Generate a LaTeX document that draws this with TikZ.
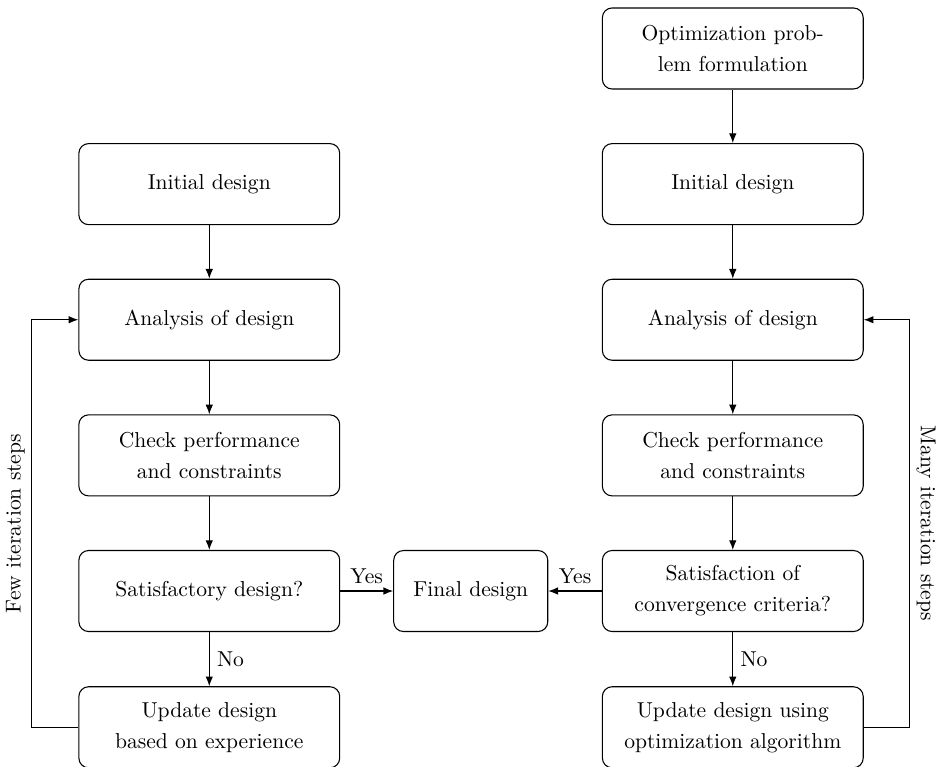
\documentclass[tikz,border=0pt]{standalone}
\usetikzlibrary{arrows.meta}
\tikzset{
  flowbox/.style={draw, rounded corners=4.5pt, align=center, minimum width=4.25cm, minimum height=1.32cm, inner sep=3pt, font=\linespread{1.2}\selectfont, line width=0.5pt},
  finalbox/.style={flowbox, minimum width=2.51cm},
  flowarrow/.style={-{Latex[length=4.5pt,width=3.5pt]}, line width=0.5pt},
  looplabel/.style={midway, anchor=south, inner sep=3pt}
}
\begin{document}
\begin{tikzpicture}
\useasboundingbox (0,0) rectangle (15.30,12.49);
% left column: design by experience
\node[flowbox] (linit) at (3.41,9.49) {Initial design};
\node[flowbox] (lanalysis) at (3.41,7.28) {Analysis of design};
\node[flowbox] (lcheck) at (3.41,5.07) {Check performance\\and constraints};
\node[flowbox] (lsatisf) at (3.41,2.86) {Satisfactory design?};
\node[flowbox] (lupdate) at (3.41,0.64) {Update design\\based on experience};
% right column: design by optimization
\node[flowbox] (rform) at (11.94,11.70) {Optimization prob-\\lem formulation};
\node[flowbox] (rinit) at (11.94,9.49) {Initial design};
\node[flowbox] (ranalysis) at (11.94,7.28) {Analysis of design};
\node[flowbox] (rcheck) at (11.94,5.07) {Check performance\\and constraints};
\node[flowbox] (rsatisf) at (11.94,2.86) {Satisfaction of\\convergence criteria?};
\node[flowbox] (rupdate) at (11.94,0.64) {Update design using\\optimization algorithm};
\node[finalbox] (final) at (7.67,2.86) {Final design};
\coordinate (lloop) at (0.52,0);
\coordinate (rloop) at (14.82,0);
\draw[flowarrow] (linit) -- (lanalysis);
\draw[flowarrow] (lanalysis) -- (lcheck);
\draw[flowarrow] (lcheck) -- (lsatisf);
\draw[flowarrow] (lsatisf) -- node[right] {No} (lupdate);
\draw[flowarrow] (lsatisf) -- node[above] {Yes} (final);
\draw[flowarrow] (lupdate.west) -- (lupdate.west -| lloop) -- node[looplabel, rotate=90] {Few iteration steps} (lanalysis.west -| lloop) -- (lanalysis.west);
\draw[flowarrow] (rform) -- (rinit);
\draw[flowarrow] (rinit) -- (ranalysis);
\draw[flowarrow] (ranalysis) -- (rcheck);
\draw[flowarrow] (rcheck) -- (rsatisf);
\draw[flowarrow] (rsatisf) -- node[right] {No} (rupdate);
\draw[flowarrow] (rsatisf) -- node[above] {Yes} (final);
\draw[flowarrow] (rupdate.east) -- (rupdate.east -| rloop) -- node[looplabel, rotate=-90] {Many iteration steps} (ranalysis.east -| rloop) -- (ranalysis.east);
\end{tikzpicture}
\end{document}
